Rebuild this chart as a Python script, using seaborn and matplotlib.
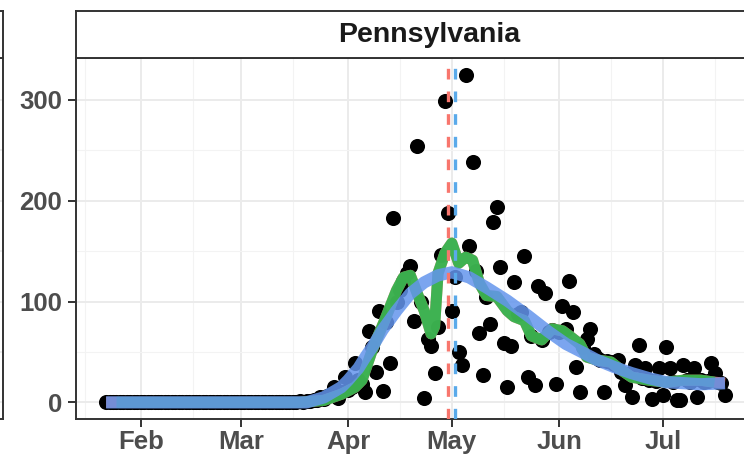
import matplotlib
matplotlib.use("Agg")
import matplotlib.pyplot as plt
import matplotlib.dates as mdates
from matplotlib.ticker import MultipleLocator, FixedLocator
import pandas as pd
import seaborn as sns

state = "Pennsylvania"
start_date = "2020-01-22"
month_ticks = ["2020-02-01", "2020-03-01", "2020-04-01", "2020-05-01", "2020-06-01", "2020-07-01"]

# daily deaths, Jan 22 - Jul 19 (zeros until Mar 17)
deaths = [0] * 56 + [
    # Mar 18 - Mar 31
    1, 0, 1, 1, 2, 2, 5, 3, 6, 8, 15, 4, 10, 25,
    # Apr
    12, 15, 39, 22, 18, 10, 71, 55, 30, 91, 11, 80, 39, 183, 100,
    111, 120, 128, 135, 81, 254, 100, 4, 63, 56, 29, 75, 146, 299, 188,
    # May
    91, 124, 50, 37, 325, 155, 238, 130, 69, 27, 105, 78, 179, 194, 134, 59,
    15, 56, 119, 88, 90, 145, 25, 66, 17, 115, 62, 108, 70, 72, 18,
    # Jun
    70, 96, 73, 120, 90, 35, 10, 55, 63, 73, 48, 44, 42, 10, 41,
    40, 38, 42, 30, 17, 28, 5, 37, 57, 24, 34, 22, 3, 21, 34,
    # Jul
    7, 55, 34, 20, 2, 2, 37, 22, 20, 34, 5, 22, 20, 21, 39, 29, 20, 19, 7]

# 7 day average (green)
green_dates = ["2020-01-25", "2020-03-18", "2020-03-25", "2020-03-30", "2020-04-03",
               "2020-04-05", "2020-04-08", "2020-04-12", "2020-04-15", "2020-04-17",
               "2020-04-19", "2020-04-21", "2020-04-23", "2020-04-25", "2020-04-26",
               "2020-04-27", "2020-04-29", "2020-05-01", "2020-05-03", "2020-05-05",
               "2020-05-07", "2020-05-09", "2020-05-11", "2020-05-14", "2020-05-17",
               "2020-05-19", "2020-05-22", "2020-05-24", "2020-05-27", "2020-05-30",
               "2020-06-02", "2020-06-04", "2020-06-07", "2020-06-09", "2020-06-12",
               "2020-06-16", "2020-06-19", "2020-06-22", "2020-06-27", "2020-07-02",
               "2020-07-07", "2020-07-12", "2020-07-16"]
green_vals = [0, 0, 2, 8, 15, 22, 52, 85, 111, 124, 126, 108, 91, 68, 75,
              128, 148, 158, 138, 144, 141, 118, 106, 105, 91, 85, 81, 66, 62, 73,
              71, 66, 58, 45, 42, 40, 32, 25, 22, 20, 22, 22, 20]

# red smooth, full range
red_dates = ["2020-01-22"] + green_dates[1:] + ["2020-07-19"]
red_vals = [0] + green_vals[1:] + [19]

# fitted curve (blue)
fit_dates = ["2020-01-22", "2020-03-20", "2020-03-25", "2020-03-27", "2020-03-30",
             "2020-04-01", "2020-04-04", "2020-04-06", "2020-04-08", "2020-04-11",
             "2020-04-15", "2020-04-19", "2020-04-23", "2020-04-27", "2020-05-01",
             "2020-05-06", "2020-05-11", "2020-05-17", "2020-05-23", "2020-05-29",
             "2020-06-03", "2020-06-07", "2020-06-12", "2020-06-17", "2020-06-22",
             "2020-06-27", "2020-07-02", "2020-07-07", "2020-07-12", "2020-07-19"]
fit_vals = [0, 0, 5, 9, 15, 22, 34, 45, 55, 72, 91, 108, 119, 126, 129,
            124, 114, 101, 86, 70, 58, 51, 42, 35, 29, 24, 20, 19, 18, 19]

peak_obs = "2020-04-30"
peak_fit = "2020-05-02"

sns.set_theme(style="white")
plt.rcParams['font.family'] = ['Liberation Sans', 'DejaVu Sans']

W, H = 744, 455
fig = plt.figure(figsize=(W / 100, H / 100), dpi=100)

pl, pr, pb, pt = 76, 782, 455 - 418.5, 455 - 58.3
strip_top = 455 - 10.7
ax = fig.add_axes([pl / W, pb / H, (pr - pl) / W, (pt - pb) / H])
ax_strip = fig.add_axes([pl / W, pt / H, (pr - pl) / W, (strip_top - pt) / H])

# sliver of the neighbouring facet on the left
ax_prev = fig.add_axes([(2.5 - (pr - pl)) / W, pb / H, (pr - pl) / W, (pt - pb) / H])
ax_prev_strip = fig.add_axes([(2.5 - (pr - pl)) / W, pt / H, (pr - pl) / W, (strip_top - pt) / H])

edge = "#333333"
for a in (ax, ax_strip, ax_prev, ax_prev_strip):
    for s in a.spines.values():
        s.set_color(edge)
        s.set_linewidth(1.4)
        s.set_visible(True)
    a.set_facecolor("white")
for a in (ax_strip, ax_prev_strip, ax_prev):
    a.set_xticks([])
    a.set_yticks([])

df = pd.DataFrame({"date": pd.date_range(start_date, periods=len(deaths)), "deaths": deaths})

sns.scatterplot(data=df, x="date", y="deaths", color="black", s=118, linewidth=0,
                ax=ax, zorder=3, legend=False)
sns.lineplot(x=pd.to_datetime(red_dates), y=red_vals, color="#F8766D", lw=8, alpha=0.85,
             ax=ax, zorder=4, solid_capstyle="butt")
sns.lineplot(x=pd.to_datetime(green_dates), y=green_vals, color="#25B84C", lw=8, alpha=0.88,
             ax=ax, zorder=5, solid_capstyle="butt")
sns.lineplot(x=pd.to_datetime(fit_dates), y=fit_vals, color="#6495ED", lw=8.8, alpha=0.85,
             ax=ax, zorder=6, solid_capstyle="butt")
ax.axvline(pd.Timestamp(peak_obs), color="#F8766D", lw=2.4, ls=(0, (3.2, 3.6)), zorder=7)
ax.axvline(pd.Timestamp(peak_fit), color="#5AAAEA", lw=2.4, ls=(0, (3.2, 3.6)), zorder=7)

ax.set_xlim(pd.Timestamp("2020-01-13 07:00"), pd.Timestamp("2020-08-04 12:00"))
ax.set_ylim(-16, 341.3)
ax_prev.set_ylim(-16, 341.3)

ax.xaxis.set_major_locator(FixedLocator(mdates.date2num(pd.to_datetime(month_ticks))))
ax.xaxis.set_minor_locator(mdates.MonthLocator(bymonthday=16))
ax.xaxis.set_major_formatter(mdates.DateFormatter("%b"))
ax.yaxis.set_major_locator(MultipleLocator(100))
ax.yaxis.set_minor_locator(MultipleLocator(50))

ax.grid(which="major", color="#EBEBEB", lw=1.4, zorder=0)
ax.grid(which="minor", color="#F3F3F3", lw=0.8, zorder=0)
ax_prev.set_yticks([0, 100, 200, 300], minor=False)
ax_prev.set_yticks([50, 150, 250], minor=True)
ax_prev.grid(which="both", axis="y", color="#EBEBEB", lw=1.2)
ax_prev.tick_params(which="both", left=False, labelleft=False)
ax.set_axisbelow(True)

ax.tick_params(axis="both", which="major", length=5.5, width=1.4, color=edge,
               labelsize=18.5, labelcolor="#4D4D4D", bottom=True, left=True)
ax.tick_params(axis="x", pad=2.5)
ax.tick_params(axis="y", pad=4.5)
ax.tick_params(which="minor", length=0)
for lab in ax.get_xticklabels() + ax.get_yticklabels():
    lab.set_fontweight("bold")
ax.set_xlabel("")
ax.set_ylabel("")

ax_strip.text(0.5, 0.5, state, transform=ax_strip.transAxes, ha="center", va="center",
              fontsize=20.5, fontweight="bold", color="#1A1A1A")

fig.savefig("out.png", dpi=100)
